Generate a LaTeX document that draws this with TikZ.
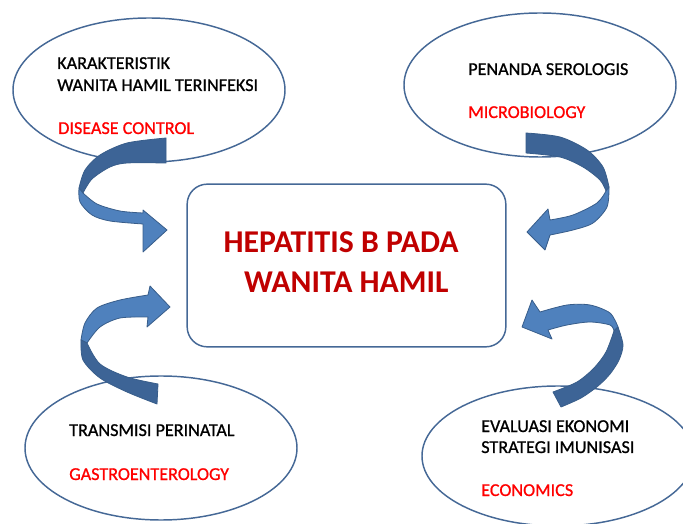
\documentclass[tikz,border=0pt]{standalone}
\usepackage{fontspec}
\setmainfont{Carlito}
\newfontfamily\tebal[FakeBold=0.9]{Carlito}
\usetikzlibrary{shapes.geometric}
\definecolor{garis}{RGB}{69,104,150}
\definecolor{panahgelap}{RGB}{61,100,150}
\definecolor{panahterang}{RGB}{79,129,189}
\definecolor{panahtepi}{RGB}{56,93,138}
\definecolor{merahtua}{RGB}{192,0,0}
\begin{document}
\begin{tikzpicture}[x=0.75pt,y=-0.75pt,line join=round]
	\tikzset{elips/.style={ellipse,draw=garis,line width=1.1pt,fill=white,minimum width=204pt,minimum height=108pt,inner sep=0pt},
		kotak/.style={rectangle,rounded corners=15pt,draw=garis,line width=1.1pt,fill=white,minimum width=239pt,minimum height=122pt},
		teks/.style={anchor=base west,inner sep=0pt,font=\tebal\fontsize{13.6}{16}\selectfont},
		ilmu/.style={teks,text=red},
		gelap/.style={fill=panahgelap,draw=panahtepi,line width=0.6pt},
		terang/.style={fill=panahterang,draw=panahtepi,line width=0.6pt}}
	\useasboundingbox (0,0) rectangle (683,524);
	\clip (0,0) rectangle (683,524);
	% elips
	\node[elips] (kiriatas) at (149,90) {};
	\node[elips] (kananatas) at (540,85) {};
	\node[elips] (kiribawah) at (161,448) {};
	\node[elips,minimum height=105pt] (kananbawah) at (558,456) {};
	\node[kotak] (pusat) at (346.5,265.5) {};
	\node[align=center,inner sep=0pt,text=merahtua,font=\fontsize{23.8}{30}\selectfont\bfseries] (judul) at (341,262.5) {HEPATITIS B PADA\\\hspace*{8pt}WANITA HAMIL};
	% teks
	\node[teks] (karakter) at (57,69) {KARAKTERISTIK};
	\node[teks] (wanita) at (57,91) {WANITA HAMIL TERINFEKSI};
	\node[ilmu] (disease) at (58,134) {DISEASE CONTROL};
	\node[teks] (penanda) at (468,75) {PENANDA SEROLOGIS};
	\node[ilmu] (mikro) at (468,118) {MICROBIOLOGY};
	\node[teks] (transmisi) at (69,436) {TRANSMISI PERINATAL};
	\node[ilmu] (gastro) at (69,480) {GASTROENTEROLOGY};
	\node[teks] (evaluasi) at (481,432) {EVALUASI EKONOMI};
	\node[teks] (strategi) at (481,453) {STRATEGI IMUNISASI};
	\node[ilmu] (ekonomi) at (481,496) {ECONOMICS};
	% panah kiri atas
	\filldraw[gelap] plot[smooth] coordinates {(166,138) (127,143) (100,155) (85,170) (79,188)}
		-- plot[smooth] coordinates {(83,193) (92,179) (110,167) (127,163) (166,163)} -- cycle;
	\filldraw[terang] plot[smooth] coordinates {(79,188) (80,202) (92,215) (110,221) (143,224)}
		-- (143,252) -- (167,230) -- (143,210) -- plot[smooth] coordinates {(143,213) (120,211) (97,204) (83,193)} -- cycle;
	% panah kiri bawah
	\filldraw[terang] plot[smooth] coordinates {(81,340) (85,323) (97,308) (120,300) (148,295)}
		-- (150,286) -- (170,307) -- (147,327) -- plot[smooth] coordinates {(148,317) (120,318) (100,327) (87,343)} -- cycle;
	\filldraw[gelap] plot[smooth] coordinates {(81,340) (83,360) (100,378) (127,392) (157,404)}
		-- plot[smooth] coordinates {(158,384) (127,377) (100,364) (87,343)} -- cycle;
	% panah kanan atas
	\filldraw[gelap] plot[smooth] coordinates {(526,133) (560,137) (587,150) (603,167) (609,187)}
		-- plot[smooth] coordinates {(606,191) (600,180) (583,167) (560,157) (526,153)} -- cycle;
	\filldraw[terang] plot[smooth] coordinates {(609,187) (607,207) (593,223) (573,230) (550,235)}
		-- (545,250) -- (527,232) -- (548,209) -- plot[smooth] coordinates {(550,220) (573,215) (597,203) (606,191)} -- cycle;
	% panah kanan bawah
	\filldraw[terang] plot[smooth] coordinates {(618,327) (610,313) (590,305) (567,305) (540,312)}
		-- (532,300) -- (522,327) -- (552,339) -- plot[smooth] coordinates {(548,330) (567,325) (590,322) (610,325) (614,331)} -- cycle;
	\filldraw[gelap] plot[smooth] coordinates {(618,327) (623,345) (619,360) (610,374) (598,386) (581,398) (561,407)}
		-- plot[smooth] coordinates {(553,392) (577,382) (594,368) (606,352) (614,331)} -- cycle;
\end{tikzpicture}
\end{document}
